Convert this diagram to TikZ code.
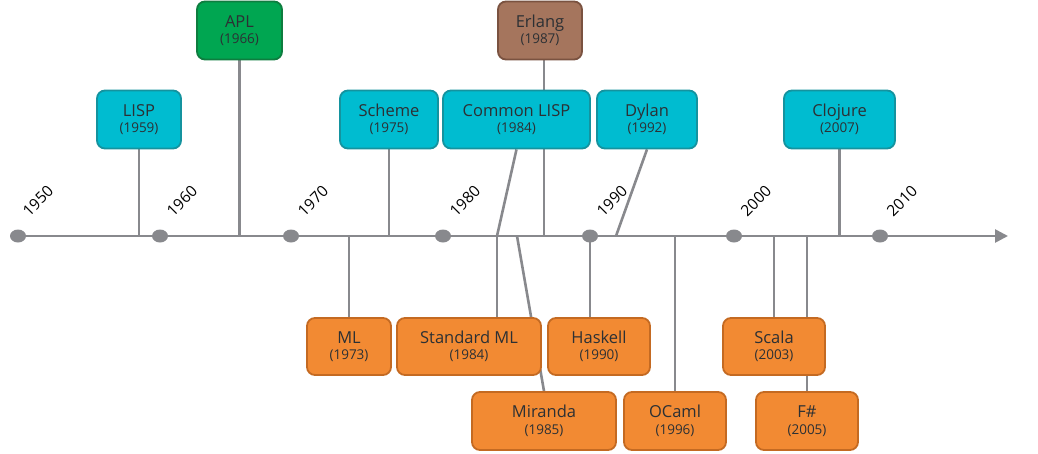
\documentclass[tikz,border=0pt]{standalone}
\usepackage{fontspec}
\setmainfont{Open Sans}
\usetikzlibrary{arrows.meta,shapes.geometric,backgrounds,calc}
\definecolor{axisgray}{HTML}{88898D}
\definecolor{cyanfill}{HTML}{00BCD0}
\definecolor{cyanline}{HTML}{14939F}
\definecolor{greenfill}{HTML}{00A651}
\definecolor{greenline}{HTML}{0E7D3F}
\definecolor{brownfill}{HTML}{A5755D}
\definecolor{brownline}{HTML}{7A5240}
\definecolor{orangefill}{HTML}{F28A33}
\definecolor{orangeline}{HTML}{C46A22}
\definecolor{boxtext}{HTML}{2C3034}
\newcommand{\lang}[2]{#1\\[-2.5pt]{\fontsize{13.5}{15}\selectfont(#2)}}
\tikzset{
  langbox/.style={draw, line width=1.8pt, rounded corners=8pt, align=center,
    inner sep=0pt, minimum height=58pt, text=boxtext,
    font=\fontsize{16.5}{19}\selectfont},
  cyanbox/.style={langbox, fill=cyanfill, draw=cyanline},
  greenbox/.style={langbox, fill=greenfill, draw=greenline},
  brownbox/.style={langbox, fill=brownfill, draw=brownline},
  orangebox/.style={langbox, fill=orangefill, draw=orangeline},
  conn/.style={draw=axisgray, line width=2.6pt},
  tickdot/.style={ellipse, fill=axisgray, minimum width=16pt, minimum height=13pt, inner sep=0pt},
  yearlbl/.style={rotate=45, font=\fontsize{15.5}{17}\selectfont, text=black, inner sep=0pt},
}
\begin{document}
\begin{tikzpicture}[x=1pt,y=-1pt]
\useasboundingbox (0,0) rectangle (1038,453);
% axis coordinates
\coordinate (ax) at (0,236);
\coordinate (axend) at (1008,236);
\coordinate (clfoot) at (497,236);
\coordinate (mirfoot) at (517,236);
\coordinate (erlfoot) at (544,236);
\coordinate (dylfoot) at (616,236);
% tick dots
\node[tickdot] (t1950) at (18,236) {};
\node[tickdot] (t1960) at (160,236) {};
\node[tickdot] (t1970) at (291,236) {};
\node[tickdot] (t1980) at (443,236) {};
\node[tickdot] (t1990) at (590,236) {};
\node[tickdot] (t2000) at (734,236) {};
\node[tickdot] (t2010) at (880,236) {};
\node[yearlbl] (y1950) at ($(t1950)+(20,-35)$) {1950};
\node[yearlbl] (y1960) at ($(t1960)+(22,-35)$) {1960};
\node[yearlbl] (y1970) at ($(t1970)+(22,-35)$) {1970};
\node[yearlbl] (y1980) at ($(t1980)+(22,-35)$) {1980};
\node[yearlbl] (y1990) at ($(t1990)+(22,-35)$) {1990};
\node[yearlbl] (y2000) at ($(t2000)+(22,-35)$) {2000};
\node[yearlbl] (y2010) at ($(t2010)+(22,-35)$) {2010};
% top boxes
\node[cyanbox, minimum width=84pt] (lisp) at (139,119.5) {\lang{LISP}{1959}};
\node[greenbox, minimum width=85pt] (apl) at (239.5,30.5) {\lang{APL}{1966}};
\node[cyanbox, minimum width=98pt] (scheme) at (389,119.5) {\lang{Scheme}{1975}};
\node[cyanbox, minimum width=147pt] (cl) at (516.5,119.5) {\lang{Common LISP}{1984}};
\node[brownbox, minimum width=84pt] (erl) at (540,30.5) {\lang{Erlang}{1987}};
\node[cyanbox, minimum width=100pt] (dyl) at (647,119.5) {\lang{Dylan}{1992}};
\node[cyanbox, minimum width=111pt] (clj) at (839.5,119.5) {\lang{Clojure}{2007}};
% bottom boxes
\node[orangebox, minimum width=84pt, minimum height=57pt] (ml) at (349,346.5) {\lang{ML}{1973}};
\node[orangebox, minimum width=144pt, minimum height=57pt] (sml) at (469,346.5) {\lang{Standard ML}{1984}};
\node[orangebox, minimum width=102pt, minimum height=57pt] (has) at (599,346.5) {\lang{Haskell}{1990}};
\node[orangebox, minimum width=144pt] (mir) at (544,421) {\lang{Miranda}{1985}};
\node[orangebox, minimum width=102pt] (oc) at (675,421) {\lang{OCaml}{1996}};
\node[orangebox, minimum width=102pt, minimum height=57pt] (sca) at (774,346.5) {\lang{Scala}{2003}};
\node[orangebox, minimum width=102pt] (fs) at (807,421) {\lang{F\#}{2005}};
\begin{pgfonlayer}{background}
\draw[conn, -{Triangle[length=13pt,width=13pt]}] (t1950.center) -- (axend);
\draw[conn] (lisp.south) -- (lisp.south |- ax);
\draw[conn] (apl.south) -- (apl.south |- ax);
\draw[conn] (scheme.south) -- (scheme.south |- ax);
\draw[conn] (erlfoot |- erl.south) -- (erlfoot);
\draw[conn] (cl.south) -- (clfoot);
\draw[conn] (dyl.south) -- (dylfoot);
\draw[conn] (clj.south) -- (clj.south |- ax);
\draw[conn] (ml.north |- ax) -- (ml.north);
\draw[conn] (clfoot) -- (clfoot |- sml.north);
\draw[conn] (mirfoot) -- (mir.north);
\draw[conn] (t1990.center) -- (t1990 |- has.north);
\draw[conn] (oc.north |- ax) -- (oc.north);
\draw[conn] (sca.north |- ax) -- (sca.north);
\draw[conn] (fs.north |- ax) -- (fs.north);
\end{pgfonlayer}
\end{tikzpicture}
\end{document}
